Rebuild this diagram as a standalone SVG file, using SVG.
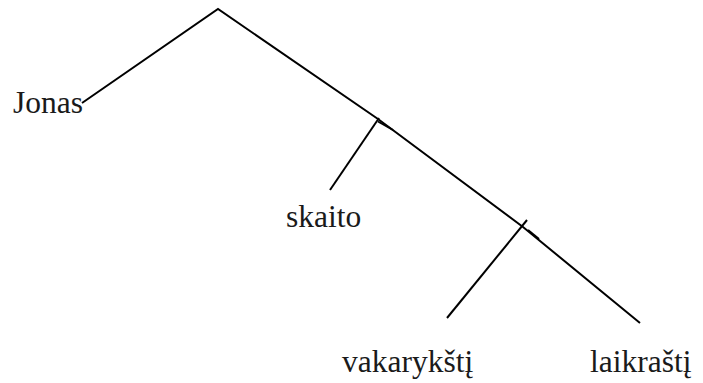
<svg xmlns="http://www.w3.org/2000/svg" width="703" height="383" viewBox="0 0 703 383">
<style>
.e{fill:none;stroke:#000;stroke-width:2;stroke-linecap:butt}
.t{font-family:"Liberation Serif",serif;font-size:31.5px;fill:#1a1a1a}
</style>
<rect width="703" height="383" fill="#fff"/>
<g id="edges">
<path class="e" d="M82,103 L218,9 L378,119 L523,227 L640,323"/>
<path class="e" d="M379,118 L330,190"/>
<path class="e" d="M527,220 L447,318"/>
<path class="e" d="M378,121.5 L393,130"/>
<path class="e" d="M528,230 L539,239"/>
</g>
<g id="n-jonas"><text class="t" x="13" y="113">Jonas</text></g>
<g id="n-skaito"><text class="t" x="286" y="227">skaito</text></g>
<g id="n-vakarykstj"><text class="t" x="342" y="372">vakarykštį</text></g>
<g id="n-laikrastj"><text class="t" x="590" y="372">laikraštį</text></g>
</svg>
